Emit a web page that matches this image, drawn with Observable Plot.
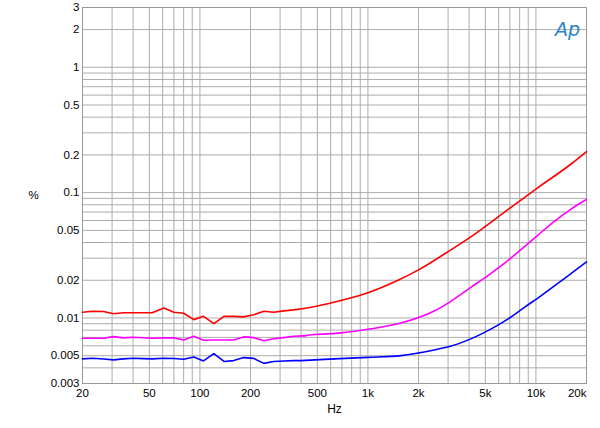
<!DOCTYPE html>
<html>
<head>
<meta charset="utf-8">
<script src="https://cdn.jsdelivr.net/npm/d3@7"></script>
<script src="https://cdn.jsdelivr.net/npm/@observablehq/plot@0.6"></script>
<style>
  html, body { margin: 0; padding: 0; background: #fff; }
  #chart svg { display: block; }
</style>
</head>
<body>
<div id="chart"></div>
<script>
// ---- Data ----
const redFreq = [20, 22.9, 26.7, 30.6, 35, 40, 46, 52, 61, 70, 80, 92, 105, 121, 139, 159, 182, 209, 240, 275, 316, 362, 416, 477, 578, 691, 1000, 1500, 2000, 3130, 4118, 6506, 10290, 16260, 20000];
const redVal  = [0.0111, 0.0113, 0.01125, 0.0108, 0.0110, 0.0110, 0.0110, 0.0110, 0.0120, 0.0111, 0.0109, 0.0097, 0.0103, 0.0090, 0.0103, 0.0103, 0.0102, 0.0106, 0.0113, 0.0111, 0.0114, 0.0116, 0.0119, 0.0123, 0.0130, 0.0138, 0.0159, 0.0199, 0.0242, 0.0351, 0.0446, 0.0700, 0.1098, 0.170, 0.2128];

const magFreq = [20, 26.7, 30.6, 35, 40, 52, 61, 70, 80, 92, 105, 121, 139, 159, 182, 209, 240, 275, 316, 362, 416, 477, 578, 691, 1000, 1574, 2478, 3130, 4118, 5178, 6506, 8180, 10290, 12930, 16260, 20000];
const magVal  = [0.00688, 0.00688, 0.00710, 0.00694, 0.00701, 0.00688, 0.00694, 0.00694, 0.00668, 0.00714, 0.00664, 0.00668, 0.00668, 0.00668, 0.00706, 0.00697, 0.00657, 0.00682, 0.00697, 0.00714, 0.00720, 0.00737, 0.00747, 0.00760, 0.00812, 0.00910, 0.01135, 0.01364, 0.01764, 0.0218, 0.0274, 0.0353, 0.0459, 0.0593, 0.0743, 0.0881];

const blueFreq = [20, 22.9, 26.7, 30.6, 35, 40, 46, 52, 61, 70, 80, 92, 105, 121, 139, 159, 182, 209, 240, 275, 316, 362, 399, 628, 1000, 1574, 2478, 3130, 4292, 5420, 6840, 8530, 10770, 14760, 20000];
const blueVal  = [0.00472, 0.00477, 0.00470, 0.00463, 0.00472, 0.00477, 0.00474, 0.00472, 0.00477, 0.00475, 0.00468, 0.00489, 0.00454, 0.00520, 0.00450, 0.00457, 0.00483, 0.00476, 0.00434, 0.00449, 0.00453, 0.00457, 0.00457, 0.00472, 0.00485, 0.00501, 0.00556, 0.00597, 0.00700, 0.00818, 0.00983, 0.01213, 0.0151, 0.0206, 0.0280];

// frequency above which the measured curves are drawn smooth
const smoothFrom = 400;

const xTickValues = [20, 50, 100, 200, 500, 1000, 2000, 5000, 10000];
const xTickLast   = [20000];
const xTickLabels = {20: "20", 50: "50", 100: "100", 200: "200", 500: "500", 1000: "1k", 2000: "2k", 5000: "5k", 10000: "10k", 20000: "20k"};
const yTickValues = [3, 2, 1, 0.5, 0.2, 0.1, 0.05, 0.02, 0.01, 0.005, 0.003];
const yTickLabels = ["3", "2", "1", "0.5", "0.2", "0.1", "0.05", "0.02", "0.01", "0.005", "0.003"];

// grid values: 1-9 multiples of each decade
const xGrid = [];
for (const d of [10, 100, 1000, 10000]) for (let m = 1; m <= 9; m++) { const v = m * d; if (v >= 20 && v <= 20000) xGrid.push(v); }
const yGrid = [];
for (const d of [0.001, 0.01, 0.1, 1]) for (let m = 1; m <= 9; m++) { const v = +(m * d).toPrecision(3); if (v >= 0.003 && v <= 3) yGrid.push(v); }

const toRows = (f, v) => f.map((x, i) => ({f: x, v: v[i]}));
function splitRows(f, v) {
  const rows = toRows(f, v);
  const k = rows.findIndex(r => r.f >= smoothFrom);
  return {low: rows.slice(0, k + 1), high: rows.slice(k)};
}
const series = [
  {rows: splitRows(redFreq, redVal), color: "#ff0000"},
  {rows: splitRows(magFreq, magVal), color: "#ff00ff"},
  {rows: splitRows(blueFreq, blueVal), color: "#0000ff"}
];

const font = "'Liberation Sans', Arial, sans-serif";
const gridColor = "#acacac";

const lineMarks = series.flatMap(s => [
  Plot.line(s.rows.low, {x: "f", y: "v", stroke: s.color, strokeWidth: 1.6, strokeLinejoin: "round"}),
  Plot.line(s.rows.high, {x: "f", y: "v", stroke: s.color, strokeWidth: 1.6, curve: "monotone-x"})
]);

const chart = Plot.plot({
  width: 600,
  height: 428,
  marginLeft: 82,
  marginRight: 14,
  marginTop: 7,
  marginBottom: 45,
  style: {fontFamily: font, fontSize: "11px", color: "#000", background: "#fff"},
  x: {type: "log", domain: [20, 20000], axis: null},
  y: {type: "log", domain: [0.003, 3], axis: null},
  marks: [
    Plot.ruleX(xGrid, {stroke: gridColor, strokeWidth: 1}),
    Plot.ruleY(yGrid, {stroke: gridColor, strokeWidth: 1}),
    Plot.frame({stroke: "#999"}),
    // x tick labels
    Plot.text(xTickValues, {x: d => d, frameAnchor: "bottom", dy: 10, text: d => xTickLabels[d], fontSize: 11.5, fill: "#000", lineAnchor: "middle"}),
    Plot.text(xTickLast, {x: d => d, frameAnchor: "bottom", dy: 10, text: d => xTickLabels[d], textAnchor: "end", fontSize: 11.5, fill: "#000", lineAnchor: "middle"}),
    // y tick labels
    Plot.text(yTickValues, {y: d => d, frameAnchor: "left", dx: -3, textAnchor: "end", text: (d, i) => yTickLabels[i], fontSize: 11.5, fill: "#000", lineAnchor: "middle"}),
    ...lineMarks,
    Plot.text(["%"], {frameAnchor: "left", dx: -54, text: d => d, fontSize: 11.5, fill: "#000"}),
    Plot.text(["Hz"], {frameAnchor: "bottom", dy: 29, text: d => d, fontSize: 12, fill: "#000"}),
    Plot.text(["Ap"], {frameAnchor: "top-right", dx: -19, dy: 15, textAnchor: "middle", text: d => d, fontSize: 19, fontStyle: "italic", fill: "#2a86c8", fontFamily: "'DejaVu Sans', sans-serif"})
  ]
});
document.getElementById("chart").appendChild(chart);
</script>
</body>
</html>
